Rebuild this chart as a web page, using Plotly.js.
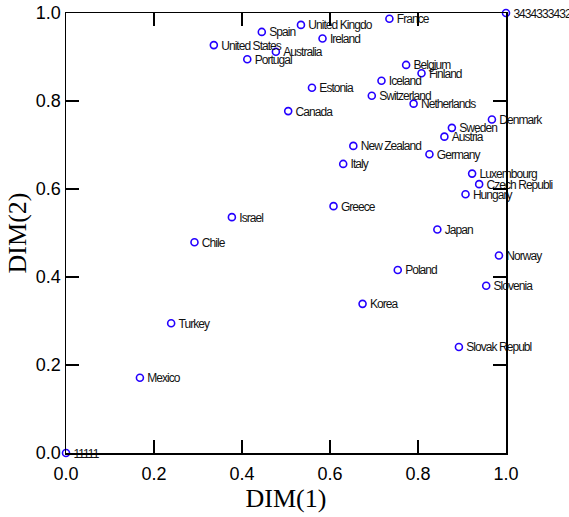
<!DOCTYPE html>
<html>
<head>
<meta charset="utf-8">
<script src="https://cdn.plot.ly/plotly-3.0.1.min.js"></script>
<style>
  html, body { margin: 0; padding: 0; background: #fff; }
  #chart { width: 569px; height: 517px; }
  /* tighten the point labels and give them a little more room from the markers */
  .scatterlayer .textpoint text { letter-spacing: -0.95px; transform: translate(2px, 1.5px); }
</style>
</head>
<body>
<div id="chart"></div>
<script>
// Country labels and their coordinates in the two scaled dimensions
const names = [
  "3434333432", "11111", "France", "United Kingdo", "Spain", "Ireland",
  "United States", "Australia", "Portugal", "Estonia", "Canada", "Belgium",
  "Finland", "Iceland", "Switzerland", "Netherlands", "Denmark", "Sweden",
  "Austria", "New Zealand", "Germany", "Italy", "Luxembourg", "Czech Republi",
  "Hungary", "Greece", "Israel", "Chile", "Japan", "Norway", "Poland",
  "Slovenia", "Korea", "Slovak Republ", "Turkey", "Mexico"
];
const dim1 = [
  1.000, 0.000, 0.735, 0.534, 0.445, 0.583,
  0.336, 0.477, 0.412, 0.559, 0.505, 0.773,
  0.808, 0.717, 0.695, 0.790, 0.968, 0.877,
  0.860, 0.653, 0.826, 0.630, 0.923, 0.939,
  0.908, 0.608, 0.377, 0.292, 0.844, 0.984, 0.754,
  0.955, 0.674, 0.893, 0.239, 0.168
];
const dim2 = [
  1.000, 0.000, 0.987, 0.973, 0.957, 0.942,
  0.927, 0.912, 0.895, 0.830, 0.777, 0.882,
  0.863, 0.846, 0.812, 0.794, 0.758, 0.739,
  0.719, 0.698, 0.679, 0.657, 0.635, 0.611,
  0.588, 0.561, 0.536, 0.479, 0.508, 0.449, 0.416,
  0.380, 0.339, 0.241, 0.295, 0.171
];
const xTicks = [0, 0.2, 0.4, 0.6, 0.8, 1.0];
const yTicks = [0, 0.2, 0.4, 0.6, 0.8, 1.0];

const trace = {
  type: "scatter",
  mode: "markers+text",
  x: dim1,
  y: dim2,
  text: names,
  textposition: "middle right",
  textfont: { family: "Liberation Sans, Arial, sans-serif", size: 12, color: "#111" },
  marker: {
    symbol: "circle-open",
    size: 7,
    color: "#2400ff",
    line: { width: 1.6, color: "#2400ff" }
  },
  cliponaxis: false,
  hoverinfo: "x+y+text"
};

const axisCommon = {
  range: [0, 1],
  showgrid: false,
  zeroline: false,
  showline: true,
  linecolor: "#000",
  linewidth: 1.5,
  mirror: "ticks",
  ticks: "inside",
  ticklen: 13,
  tickwidth: 1.5,
  tickcolor: "#000",
  tickformat: ".1f",
  tickfont: { family: "Liberation Sans, Arial, sans-serif", size: 18, color: "#000" }
};

const layout = {
  width: 569,
  height: 517,
  margin: { l: 66, r: 63, t: 13, b: 64 },
  paper_bgcolor: "#fff",
  plot_bgcolor: "#fff",
  showlegend: false,
  xaxis: Object.assign({}, axisCommon, {
    tickvals: xTicks,
    ticklabelstandoff: 4,
    title: { text: "DIM(1)", font: { family: "Liberation Serif, Times New Roman, serif", size: 26, color: "#000" }, standoff: 4 }
  }),
  yaxis: Object.assign({}, axisCommon, {
    tickvals: yTicks,
    title: { text: "DIM(2)", font: { family: "Liberation Serif, Times New Roman, serif", size: 26, color: "#000" }, standoff: 2 }
  })
};

Plotly.newPlot("chart", [trace], layout, { displayModeBar: false, staticPlot: true });
</script>
</body>
</html>
